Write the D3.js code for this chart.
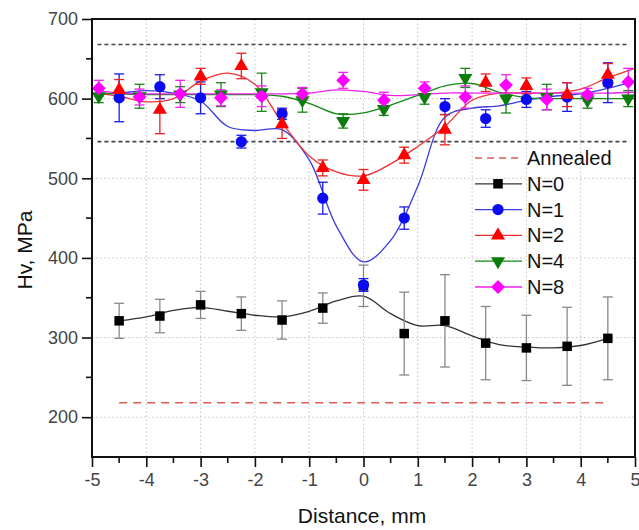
<!DOCTYPE html>
<html>
<head>
<meta charset="utf-8">
<script src="https://cdn.jsdelivr.net/npm/d3@7"></script>
<style>
body { margin: 0; background: #fff; }
svg { font-family: "Liberation Sans", Arial, sans-serif; }
</style>
</head>
<body>
<svg id="chart" width="639" height="530"></svg>
<script>
// measured points (x positions in mm)
var xs13 = [-4.5, -3.75, -3, -2.25, -1.5, -0.75, 0, 0.75, 1.5, 2.25, 3, 3.75, 4.5];
var xs14 = [-4.875, -4.125, -3.375, -2.625, -1.875, -1.125, -0.375, 0.375, 1.125, 1.875, 2.625, 3.375, 4.125, 4.875];

var n0 = [321, 327, 341, 330, 322, 337, 365, 305, 321, 293, 287, 289, 299];
var n0err = [22, 21, 17, 21, 24, 19, 26, 52, 58, 46, 41, 49, 52];
var n1 = [601, 615, 601, 546, 581, 475, 366, 450, 590, 575, 599, 602, 620];
var n1err = [30, 15, 20, 8, 7, 20, 8, 14, 10, 11, 10, 18, 25];
var n2 = [611, 586, 628, 641, 568, 513, 498, 529, 561, 620, 616, 605, 630];
var n2err = [13, 30, 10, 16, 18, 10, 13, 10, 19, 11, 10, 15, 14];
var n4 = [603, 603, 605, 605, 608, 598, 572, 587, 602, 626, 600, 602, 598, 600];
var n4err = [8, 15, 10, 15, 24, 15, 9, 8, 9, 12, 18, 16, 10, 10];
var n8 = [613, 602, 606, 601, 603, 606, 623, 598, 613, 602, 617, 599, 605, 621];
var n8err = [10, 10, 17, 10, 13, 8, 10, 10, 8, 14, 13, 13, 8, 17];

// fitted curves
var fitX0 = [-4.5, -4, -3.5, -3, -2.5, -2, -1.5, -1, -0.5, 0, 0.5, 1, 1.5, 2, 2.5, 3, 3.5, 4, 4.5];
var fit0 = [321, 326, 334, 338, 333, 328, 326, 333, 346, 352, 330, 315, 315, 302, 291, 288, 287, 290, 299];
var fitX = [-4.9, -4.5, -4, -3.5, -3, -2.5, -2, -1.5, -1, -0.5, 0, 0.5, 1, 1.5, 2, 2.5, 3, 3.5, 4, 4.5, 5];
var fit1 = [606, 607, 610, 607, 597, 565, 560, 561, 523, 440, 395, 422, 490, 577, 588, 591, 598, 603, 606, 613, 622];
var fit2 = [607, 603, 596, 600, 622, 632, 618, 570, 528, 508, 503, 518, 540, 565, 598, 607, 607, 607, 612, 626, 638];
var fit4 = [607, 606, 605, 605, 605, 605, 605, 603, 594, 581, 582, 592, 604, 616, 619, 608, 601, 600, 600, 600, 600];
var fit8 = [610, 607, 606, 606, 606, 606, 606, 606, 607, 611, 609, 604, 605, 607, 607, 607, 607, 607, 607, 607, 608];

var annealed = 218;
var refLines = [668, 546];

var xTicks = [-5, -4, -3, -2, -1, 0, 1, 2, 3, 4, 5];
var yTicks = [200, 300, 400, 500, 600, 700];

var legendLabels = ["Annealed", "N=0", "N=1", "N=2", "N=4", "N=8"];

var margin = {left: 92, right: 4, top: 19, bottom: 73};
var W = 639, H = 530;

var svg = d3.select("#chart");

var x = d3.scaleLinear().domain([-5, 5]).range([margin.left, W - margin.right]);
var y = d3.scaleLinear().domain([150, 700]).range([H - margin.bottom, margin.top]);

// grid
var grid = svg.append("g");
grid.selectAll(".gx").data(xTicks.slice(1, -1)).enter().append("line")
    .attr("x1", d => x(d)).attr("x2", d => x(d))
    .attr("y1", y(150)).attr("y2", y(700))
    .attr("stroke", "#c4c4c4").attr("stroke-dasharray", "1.5,2.5");
grid.selectAll(".gy").data(yTicks.slice(0, -1)).enter().append("line")
    .attr("y1", d => y(d)).attr("y2", d => y(d))
    .attr("x1", x(-5)).attr("x2", x(5))
    .attr("stroke", "#c4c4c4").attr("stroke-dasharray", "1.5,2.5");

// reference lines
svg.selectAll(".ref").data(refLines).enter().append("line")
    .attr("x1", x(-4.9)).attr("x2", x(4.9))
    .attr("y1", d => y(d)).attr("y2", d => y(d))
    .attr("stroke", "#444").attr("stroke-width", 1.6).attr("stroke-dasharray", "4,3");

svg.append("line")
    .attr("x1", x(-4.5)).attr("x2", x(4.5))
    .attr("y1", y(annealed)).attr("y2", y(annealed))
    .attr("stroke", "#e05a5a").attr("stroke-width", 1.5).attr("stroke-dasharray", "8,6");

var series = [
    {xs: xs13, v: n0, e: n0err, fx: fitX0, f: fit0, line: "#333", mark: "#000", bar: "#888", sym: "square"},
    {xs: xs13, v: n1, e: n1err, fx: fitX, f: fit1, line: "#3a3ae0", mark: "#0a0af5", bar: "#1a1aee", sym: "circle"},
    {xs: xs13, v: n2, e: n2err, fx: fitX, f: fit2, line: "#f03030", mark: "#ff0000", bar: "#ee2020", sym: "up"},
    {xs: xs14, v: n4, e: n4err, fx: fitX, f: fit4, line: "#138a13", mark: "#0b7d0b", bar: "#1a841a", sym: "down"},
    {xs: xs14, v: n8, e: n8err, fx: fitX, f: fit8, line: "#f020f0", mark: "#ff00ff", bar: "#f020f0", sym: "diamond"}
];

var symPath = function(kind) {
    if (kind == "square") return d3.symbol(d3.symbolSquare, 90)();
    if (kind == "circle") return d3.symbol(d3.symbolCircle, 100)();
    if (kind == "up" || kind == "down") return d3.symbol(d3.symbolTriangle, 85)();
    return d3.symbol(d3.symbolSquare, 95)();
};
var symRot = function(kind) {
    if (kind == "down") return " rotate(180)";
    if (kind == "diamond") return " rotate(45)";
    return "";
};

var lineGen = d3.line().x(d => x(d[0])).y(d => y(d[1])).curve(d3.curveCatmullRom.alpha(0.5));

series.forEach(function(s) {
    svg.append("path")
        .datum(s.fx.map((xv, i) => [xv, s.f[i]]))
        .attr("d", lineGen)
        .attr("fill", "none")
        .attr("stroke", s.line)
        .attr("stroke-width", 1.3);
});

series.forEach(function(s) {
    var g = svg.append("g");
    s.xs.forEach(function(xv, i) {
        var cx = x(xv), top = y(s.v[i] + s.e[i]), bot = y(s.v[i] - s.e[i]);
        g.append("line").attr("x1", cx).attr("x2", cx).attr("y1", top).attr("y2", bot)
            .attr("stroke", s.bar).attr("stroke-width", 1.3);
        [top, bot].forEach(function(yy) {
            g.append("line").attr("x1", cx - 5).attr("x2", cx + 5).attr("y1", yy).attr("y2", yy)
                .attr("stroke", s.bar).attr("stroke-width", 1.3);
        });
    });
});

series.forEach(function(s) {
    svg.append("g").selectAll("path").data(s.xs).enter().append("path")
        .attr("d", symPath(s.sym))
        .attr("transform", (d, i) => "translate(" + x(d) + "," + y(s.v[i]) + ")" + symRot(s.sym))
        .attr("fill", s.mark);
});

// frame
svg.append("rect")
    .attr("x", x(-5)).attr("y", y(700))
    .attr("width", x(5) - x(-5)).attr("height", y(150) - y(700))
    .attr("fill", "none").attr("stroke", "#111").attr("stroke-width", 2);

// axes
var xAxis = d3.axisBottom(x).tickValues(xTicks).tickSize(10).tickPadding(6).tickFormat(d3.format("d"));
var gx = svg.append("g").attr("transform", "translate(0," + y(150) + ")").call(xAxis);
var yAxis = d3.axisLeft(y).tickValues(yTicks).tickSize(10).tickPadding(4);
var gy = svg.append("g").attr("transform", "translate(" + x(-5) + ",0)").call(yAxis);

[gx, gy].forEach(function(g) {
    g.select(".domain").remove();
    g.selectAll(".tick line").attr("stroke", "#111").attr("stroke-width", 1.6);
    g.selectAll(".tick text").attr("fill", "#444").style("font-size", "18px")
        .style("font-family", "'Liberation Sans', Arial, sans-serif");
});
gx.selectAll(".tick text").text(d => d < 0 ? "-" + Math.abs(d) : d);
// last label sits at the window edge, as in the source figure
gx.selectAll(".tick text").filter(d => d == 5).attr("text-anchor", "end").attr("dx", "5px");

var minorX = d3.range(-4.5, 5, 1);
svg.selectAll(".mx").data(minorX).enter().append("line")
    .attr("x1", d => x(d)).attr("x2", d => x(d))
    .attr("y1", y(150)).attr("y2", y(150) + 6)
    .attr("stroke", "#111").attr("stroke-width", 1.6);
var minorY = [250, 350, 450, 550, 650];
svg.selectAll(".my").data(minorY).enter().append("line")
    .attr("y1", d => y(d)).attr("y2", d => y(d))
    .attr("x1", x(-5) - 6).attr("x2", x(-5))
    .attr("stroke", "#111").attr("stroke-width", 1.6);

// axis titles
svg.append("text")
    .attr("x", 362).attr("y", 523)
    .attr("text-anchor", "middle").style("font-size", "21px").attr("fill", "#111")
    .text("Distance, mm");
svg.append("text")
    .attr("transform", "translate(32,250) rotate(-90)")
    .attr("text-anchor", "middle").style("font-size", "21px").attr("fill", "#111")
    .text("Hv, MPa");

// legend
var lg = svg.append("g");
var rowY = d3.scaleLinear().domain([0, 5]).range([158, 287]);
legendLabels.forEach(function(lab, i) {
    var yy = rowY(i);
    if (i == 0) {
        lg.append("line").attr("x1", 475).attr("x2", 522).attr("y1", yy).attr("y2", yy)
            .attr("stroke", "#e05a5a").attr("stroke-width", 1.5).attr("stroke-dasharray", "7,5");
    } else {
        var s = series[i - 1];
        lg.append("line").attr("x1", 475).attr("x2", 522).attr("y1", yy).attr("y2", yy)
            .attr("stroke", s.line).attr("stroke-width", 1.3);
        lg.append("path").attr("d", symPath(s.sym))
            .attr("transform", "translate(498," + yy + ")" + symRot(s.sym))
            .attr("fill", s.mark);
    }
    lg.append("text").attr("x", 527).attr("y", yy + 7)
        .style("font-size", "20px").attr("fill", "#111").text(lab);
});
</script>
</body>
</html>
